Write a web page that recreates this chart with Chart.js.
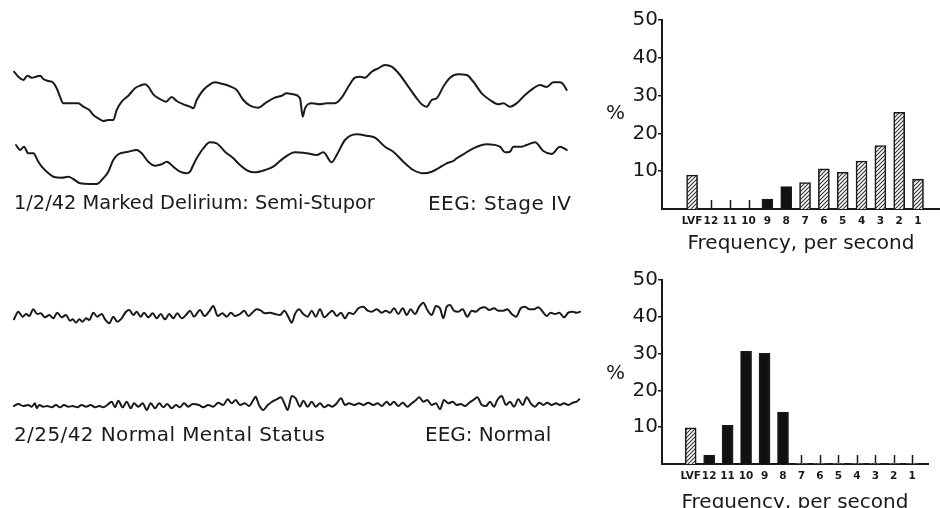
<!DOCTYPE html>
<html>
<head>
<meta charset="utf-8">
<script src="https://cdn.jsdelivr.net/npm/chart.js@4.4.1/dist/chart.umd.min.js"></script>
<style>
  html, body { margin: 0; padding: 0; background: #fff; width: 940px; height: 508px; overflow: hidden; }
  #page { position: relative; width: 940px; height: 508px; font-family: 'DejaVu Sans', sans-serif; color: #1a1a1a; }
  canvas { position: absolute; }
  .label { position: absolute; font-size: 20px; line-height: 24px; white-space: nowrap; }
</style>
</head>
<body>
<div id="page">
  <canvas id="traceA" width="574" height="72" style="left:10px;top:57px"></canvas>
  <canvas id="traceB" width="574" height="66" style="left:10px;top:127px"></canvas>
  <canvas id="traceC" width="574" height="36" style="left:10px;top:295px"></canvas>
  <canvas id="traceD" width="574" height="36" style="left:10px;top:387px"></canvas>

  <div class="label" style="left:14px;top:191px;font-size:19.4px">1/2/42 Marked Delirium: Semi-Stupor</div>
  <div class="label" style="left:428px;top:191px;letter-spacing:0.45px">EEG: Stage IV</div>
  <div class="label" style="left:14px;top:422px;letter-spacing:0.4px">2/25/42 Normal Mental Status</div>
  <div class="label" style="left:425px;top:422px">EEG: Normal</div>

  <canvas id="histTop" width="340" height="260" style="left:600px;top:0px"></canvas>
  <canvas id="histBottom" width="340" height="262" style="left:600px;top:260px"></canvas>
  <div class="label" style="left:606px;top:100px">%</div>
  <div class="label" style="left:606px;top:360px">%</div>
</div>
<script>
// Histogram categories and percentages
const freqLabels = ['LVF', '12', '11', '10', '9', '8', '7', '6', '5', '4', '3', '2', '1'];
const deliriumPct = [9.0, 0, 0, 0, 2.6, 5.9, 7.0, 10.6, 9.7, 12.7, 16.8, 25.6, 7.9];
const normalPct = [9.8, 2.4, 10.5, 30.6, 30.1, 14.1, 0, 0, 0, 0, 0, 0, 0];
const pctTicks = [10, 20, 30, 40, 50];

// EEG traces: [time, amplitude]
const deliriumUpper = [
  [0,23.3],[4.3,18.3],[9.3,15],[13.3,19.3],[17.7,17.3],[22,18.3],[26,19.3],[29.3,16],[34.3,14],[38.7,12.7],
  [42.7,6.7],[46,-1.7],[49.3,-8.3],[54.3,-8.3],[64.3,-8.3],[69.3,-11.7],[75.3,-15],[79.3,-20],[84.3,-23.3],[89.3,-26],
  [94.3,-25],[99.3,-25],[102.7,-15],[107.7,-6.7],[114.3,-0.7],[121,6.7],[126,9.3],[131,10.7],[134.3,8.3],[139.3,0.7],
  [146,-4],[152,-6.7],[157.7,-2],[162.7,-6],[169.3,-9.3],[176,-11.7],[179.3,-13.3],[182.7,-5],[189.3,5],[196,10.7],
  [201,12.7],[207.7,11.3],[212.7,10],[216.7,8.3],[222.7,5],[229.3,-5],[236,-10.7],[244.3,-12.7],[251,-8.3],[259.3,-3.3],
  [267.7,-0.7],[272.7,1.7],[279.3,0.7],[286,-3.3],[288.7,-21.7],[291,-13.3],[297.7,-8.3],[306,-9.3],[312.7,-8.3],[321,-8.3],
  [327.7,-2.7],[334.3,8.3],[341,17.3],[346,18.3],[351,17.3],[357.7,23.3],[364.3,26.7],[371,30],[377.7,28.3],[386,20],
  [394.3,8.3],[402.7,-3.3],[407.7,-9.3],[412.7,-11.7],[417.7,-5],[422.7,-3.3],[429.3,8.3],[436,17.3],[444.3,20.7],[452.7,20],
  [459.3,13.3],[467.7,1.7],[476,-5],[484.3,-9.3],[489.3,-8.3],[496,-11.7],[502.7,-8.3],[511,0],[519.3,6.7],[526,10],
  [532.7,8],[539.3,12.7],[546,12.7],[549.3,10.7],[552.7,5]
];
const deliriumLower = [
  [2,15],[6,10],[10,13.3],[14.3,6.7],[19.3,6.7],[24.3,-1.7],[27.7,-6.7],[32.7,-11.7],[39.3,-16.7],[47.7,-17.7],
  [54.3,-16.7],[59.3,-19],[66,-23.3],[76,-24],[82.7,-24],[87.7,-20],[94.3,-11.7],[99.3,0],[104.3,5.7],[114.3,8.3],
  [122.7,10],[127.7,6.7],[134.3,-1.7],[141,-5.7],[147.7,-4.3],[152.7,-1.7],[159.3,-6.7],[166,-11.7],[172.7,-13.3],[176,-11.7],
  [179.3,-5],[182.7,1.7],[189.3,11.7],[196,17.7],[202.7,16.7],[211,8.3],[219.3,1.7],[226,-5],[234.3,-11],[241,-12.3],
  [251,-10],[259.3,-6.7],[269.3,1.7],[281,7.7],[292.7,6.7],[302.7,5],[309.3,7.7],[317.7,-2.3],[322.7,5],[331,20],
  [342.7,25.7],[352.7,24.3],[361,22.3],[371,13.3],[379.3,8.3],[389.3,-1.7],[399.3,-10],[409.3,-13.3],[417.7,-11.7],[424.3,-8.3],
  [432.7,-3.3],[439.3,-1],[442.7,1.7],[449.3,5.7],[459.3,11.7],[472.7,15.7],[486,13.3],[491,7.7],[496,8.3],[499.3,13.3],
  [507.7,13.3],[512.7,15],[521,17.7],[529.3,9],[537.7,6],[546,13.3],[552.7,10]
];
const normalUpper = [
  [0,-6.3],[4.3,1.3],[8.7,-3.7],[12,-1],[15.3,-3],[19.3,3.7],[23.3,-1],[26.7,-0.3],[31,-4.3],[35.3,-2],
  [39.3,-5.3],[43.3,0.3],[47.7,-4.3],[52,-2],[56,-7.7],[58.7,-6.3],[62,-9.7],[65.3,-6.3],[68.7,-8.7],[72,-5.3],
  [75.3,-7],[79.3,0.3],[83.3,-3.7],[87.7,-1],[91,-6.3],[95.3,-10.3],[99.3,-3.7],[103.3,-8.7],[107.7,-5.3],[112,1.3],
  [115.3,3],[119.3,-2],[122.7,1.3],[126.7,-3.7],[130,0.3],[134.3,-4.3],[138.7,-0.3],[142.7,-5.3],[146.7,-1],[151,-6.3],
  [155.3,-1],[159.3,-5.3],[163.3,-0.3],[167.7,-5.3],[172,-2],[176,2.3],[180,-3.7],[186,3],[190.3,-3],[195,1.3],
  [199.3,7],[203.7,-3],[208.3,-0.3],[212.7,-3.7],[217,0.3],[221,-3],[226,-1],[230.3,2.3],[234.3,-3],[238.3,0.3],
  [242.7,3.7],[247,2.3],[251,-0.3],[256,0.3],[261,-1],[266,-2],[270.3,2.3],[274.3,-3.7],[277.7,-9.7],[281,-1],
  [285,3.7],[289.3,-1],[293.7,-3.7],[297.7,2.3],[301.7,-3.7],[306,3.7],[310.3,-4.3],[314.3,-1],[318.3,2.3],[322.7,-3],
  [327,0.3],[331,-5.3],[335,0.3],[339.3,-1],[344.3,4.7],[349.3,6.3],[353.7,2.3],[357.7,1.3],[362.7,3.7],[367.7,0.3],
  [371.7,2.3],[376,0.3],[380,4.7],[384.3,-1],[388.7,4.7],[392.7,-2],[396.7,3.7],[401,-1],[405.3,6.3],[409.3,10.3],
  [413.3,3],[417.7,-2],[422,7],[426,4.7],[429.3,-5.3],[432.7,6.3],[436,8],[440,2.3],[444.3,1.3],[448.7,3.7],
  [453.3,-3.7],[457.7,2.3],[462,1.3],[466,4.7],[471,5.7],[475.3,3],[480,4.7],[484.3,2.3],[489.3,2.3],[493.3,3.7],
  [497.7,-1],[502,-3.7],[506.7,4.7],[511,6.3],[515.3,3.7],[520,3.7],[524.3,5.7],[528.7,1.3],[532.7,-3],[536.7,0.3],
  [541,-1],[545.3,0.3],[550,-4.3],[554.3,0.3],[558.7,1.3],[562.7,0.3],[566,1.3]
];
const normalLower = [
  [0,-1],[4.3,1],[9.3,-1],[14.3,0],[17.7,-1.7],[21,1.7],[22.7,-3.3],[25.3,0],[29.3,-1.7],[33.3,-1],
  [37.7,-2.3],[42,0],[46,-2.3],[50,0],[54.3,-1.7],[58.7,-1],[63.3,-2.3],[67.7,0],[72,-1.7],[76.7,0],
  [81,-2.3],[85.3,-1],[89.3,-2.3],[93.3,0],[97.7,3.3],[101,-2.3],[104.3,4.3],[108.7,-2.3],[112.7,3.3],[116.7,-3.3],
  [120,1.7],[124.3,-1.7],[128.7,1.7],[132.7,-5],[136.7,1.7],[141,-3.3],[145.3,1.7],[149.3,-2.3],[153.3,1],[157.7,-3.3],
  [162,0],[166,-2.3],[170,1.7],[174.3,-1.7],[178.7,1],[185,0],[189.3,-2.3],[194.3,0],[199.3,-1.7],[204.3,2.3],
  [209.3,0],[213.7,5.7],[217.7,1.7],[221.7,5],[226,0],[231,1.7],[235,-1],[239.3,5],[241.7,8.3],[245,0],
  [249.3,-5],[253.7,0],[258.3,3.3],[262.7,5.7],[267,7.7],[270.3,1.7],[273.7,-5],[277.7,9],[281.7,6.7],[286,-1.7],
  [289.3,4.3],[293.7,-1.7],[297.7,3.3],[301.7,-1.7],[306,1.7],[310.3,-2.3],[314.3,0],[318.3,-1.7],[322.7,1.7],[327,6.7],
  [331,0],[335,1.7],[340.3,0],[345,1.7],[349.3,0],[354.3,2.3],[359.3,0],[363.7,1.7],[367.7,-1],[372.7,3.3],
  [376,0],[380,3.3],[384.3,-1],[388.7,2.3],[393.3,-1.7],[397.7,1.7],[402,5],[405.3,7.7],[409.3,3.3],[413.3,5],
  [417.7,0],[422,1.7],[426,-4.3],[430,5],[434.3,1.7],[438.7,3.3],[442.7,0],[446.7,1],[451,-1],[455.3,2.3],
  [459.3,5],[463.3,7.7],[467.7,0],[472,-1],[476,3.3],[480,-1.7],[483.3,5],[487.7,9],[492,0],[496,3.3],
  [500,-1.7],[504.3,5.7],[508.7,0],[512.7,7.7],[516.7,1.7],[521,-1.7],[525.3,2.3],[529.3,0],[533.3,2.3],[537.7,0],
  [542,1.7],[546,0],[550,1.7],[554.3,0],[558.7,2.3],[562.7,3.3],[565.3,5.7]
];

Chart.defaults.font.family = "'DejaVu Sans', sans-serif";
Chart.defaults.color = '#1a1a1a';
Chart.defaults.animation = false;

const INK = '#1a1a1a';

// Trace plot
function drawTrace(canvasId, samples, minAmp, maxAmp) {
    return new Chart(document.getElementById(canvasId), {
        type: 'line',
        data: {
            datasets: [{
                data: samples.map(p => ({ x: p[0], y: p[1] })),
                borderColor: INK,
                borderWidth: 2,
                pointRadius: 0,
                cubicInterpolationMode: 'monotone',
                borderJoinStyle: 'round',
                borderCapStyle: 'round',
                clip: false
            }]
        },
        options: {
            responsive: false,
            devicePixelRatio: 1,
            layout: { padding: { left: 4, right: 4, top: 3, bottom: 3 } },
            plugins: { legend: { display: false }, tooltip: { enabled: false } },
            scales: {
                x: { type: 'linear', display: false, min: 0, max: 566 },
                y: { type: 'linear', display: false, min: minAmp, max: maxAmp }
            }
        }
    });
}

drawTrace('traceA', deliriumUpper, -31, 35);
drawTrace('traceB', deliriumLower, -30, 30);
drawTrace('traceC', normalUpper, -15, 15);
drawTrace('traceD', normalLower, -15, 15);

// Hatch fill for slow activity
function makeHatch() {
    const size = 4;
    const c = document.createElement('canvas');
    c.width = size; c.height = size;
    const g = c.getContext('2d');
    g.fillStyle = '#fff';
    g.fillRect(0, 0, size, size);
    g.strokeStyle = '#333';
    g.lineWidth = 1.1;
    g.beginPath();
    g.moveTo(0, size); g.lineTo(size, 0);
    g.moveTo(-1, 1); g.lineTo(1, -1);
    g.moveTo(size - 1, size + 1); g.lineTo(size + 1, size - 1);
    g.stroke();
    return g.createPattern(c, 'repeat');
}
const hatch = makeHatch();

function isSlow(label) {
    return label === 'LVF' || Number(label) < 8;
}

// Small marks standing on the baseline at each category
const baselineMarks = {
    id: 'baselineMarks',
    beforeDatasetsDraw(chart) {
        const { ctx, scales: { x, y } } = chart;
        const base = y.getPixelForValue(0);
        ctx.save();
        ctx.strokeStyle = INK;
        ctx.lineWidth = 1.5;
        freqLabels.forEach((_, i) => {
            const px = Math.round(x.getPixelForValue(i)) + 0.5;
            ctx.beginPath();
            ctx.moveTo(px, base);
            ctx.lineTo(px, base - 9);
            ctx.stroke();
        });
        ctx.restore();
    }
};

function drawHistogram(canvasId, values, xMin, xMax, rightPad, axisHeight, titlePad) {
    return new Chart(document.getElementById(canvasId), {
        type: 'bar',
        data: {
            datasets: [{
                data: values.map((v, i) => ({ x: i, y: v })),
                backgroundColor: freqLabels.map(l => isSlow(l) ? hatch : '#111'),
                borderColor: INK,
                borderWidth: values.map(v => v === 0 ? 0 : 1.6),
                borderSkipped: 'bottom',
                barThickness: 11
            }]
        },
        options: {
            responsive: false,
            devicePixelRatio: 1,
            layout: { padding: { left: 0, right: rightPad, top: 20, bottom: 0 } },
            plugins: { legend: { display: false }, tooltip: { enabled: false } },
            scales: {
                x: {
                    type: 'linear',
                    min: xMin,
                    max: xMax,
                    afterBuildTicks: s => { s.ticks = freqLabels.map((_, i) => ({ value: i })); },
                    afterFit: s => { s.height = axisHeight; },
                    grid: { display: false, drawTicks: false },
                    border: { display: true, color: INK, width: 2 },
                    ticks: {
                        autoSkip: false,
                        maxRotation: 0,
                        padding: 6,
                        font: { size: 10.5, weight: 'bold' },
                        callback: v => freqLabels[v] ?? ''
                    },
                    title: {
                        display: true,
                        text: 'Frequency, per second',
                        font: { size: 20 },
                        padding: { top: 0, bottom: titlePad }
                    }
                },
                y: {
                    min: 0,
                    max: 50,
                    afterBuildTicks: s => { s.ticks = pctTicks.map(v => ({ value: v })); },
                    afterFit: s => { s.width = 62; },
                    grid: { display: true, drawOnChartArea: false, drawTicks: true, tickLength: 4, color: INK, lineWidth: 1.5 },
                    border: { display: true, color: INK, width: 2 },
                    ticks: { padding: 0, font: { size: 20 } }
                }
            }
        },
        plugins: [baselineMarks]
    });
}

drawHistogram('histTop', deliriumPct, -1.03, 12.6, 0, 51, 4);
drawHistogram('histBottom', normalPct, -1.0, 12.3, 12, 58, 7);
</script>
</body>
</html>
